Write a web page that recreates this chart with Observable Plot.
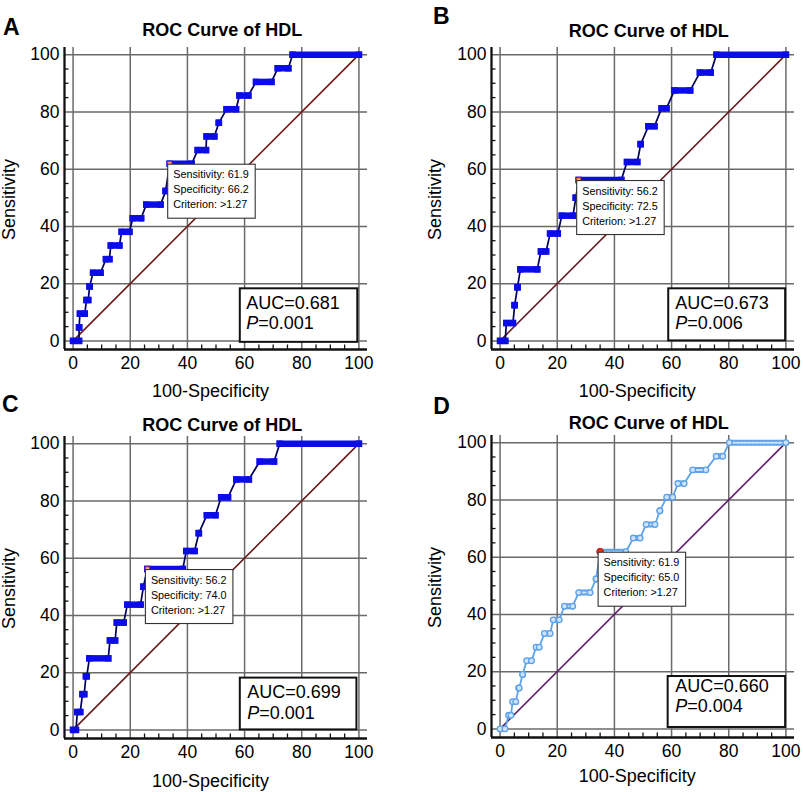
<!DOCTYPE html>
<html><head><meta charset="utf-8">
<script src="https://cdn.jsdelivr.net/npm/d3@7"></script>
<script src="https://cdn.jsdelivr.net/npm/@observablehq/plot@0.6"></script>
<style>
body{margin:0;background:#fff;}
#wrap{position:relative;width:803px;height:792px;overflow:hidden;background:#fff;}
.panel{position:absolute;}
</style></head><body><div id="wrap"></div>
<script>
// ---------- data ----------
const majorTicks = [0, 20, 40, 60, 80, 100];
const minorTicks = [5, 10, 15, 25, 30, 35, 45, 50, 55, 65, 70, 75, 85, 90, 95];
const diagonal = [0, 100];
const panelLetters = ["A", "B", "C", "D"];
const titleText = "ROC Curve of HDL";
const xLabel = "100-Specificity";
const yLabel = "Sensitivity";

// Panel A (21 positives): sensitivity level, start and end of each horizontal run (100-specificity)
const tprA  = [0, 4.76, 9.52, 14.29, 19.05, 23.81, 28.57, 33.33, 38.10, 42.86, 47.62, 52.38, 61.90, 66.67, 71.43, 76.19, 80.95, 85.71, 90.48, 95.24, 100];
const fromA = [0, 2.1, 2.4, 4.7, 5.8, 7.0, 11.5, 13.2, 17.0, 20.9, 25.6, 32.4, 33.8, 43.6, 46.7, 51.0, 53.7, 58.2, 64.0, 71.6, 76.8];
const toA   = [2.1, 2.1, 4.1, 5.3, 5.8, 9.6, 12.7, 16.2, 19.7, 23.8, 30.6, 32.4, 41.5, 46.5, 49.4, 51.0, 57.0, 61.3, 69.4, 75.3, 100];

// Panel B (16 positives)
const tprB  = [0, 6.25, 12.5, 18.75, 25, 31.25, 37.5, 43.75, 50, 56.25, 62.5, 68.75, 75, 81.25, 87.5, 93.75, 100];
const fromB = [0, 2.2, 5.1, 6.1, 7.1, 14.3, 17.5, 21.6, 26.5, 27.5, 44.4, 49.2, 51.9, 56.5, 61.0, 69.9, 75.7];
const toB   = [1.8, 4.5, 5.1, 6.1, 13.0, 16.1, 20.2, 25.5, 26.5, 42.4, 48.0, 49.2, 54.0, 58.2, 66.5, 73.7, 100];

// Panel C (16 positives)
const tprC  = [0, 6.25, 12.5, 18.75, 25, 31.25, 37.5, 43.75, 50, 56.25, 62.5, 68.75, 75, 81.25, 87.5, 93.75, 100];
const fromC = [0, 1.5, 3.3, 4.5, 5.7, 12.9, 15.3, 19.0, 24.6, 26.0, 39.6, 44.0, 46.8, 51.8, 57.1, 65.3, 72.3];
const toC   = [1.0, 2.5, 3.9, 4.8, 12.3, 14.7, 17.7, 23.6, 24.6, 38.4, 42.5, 44.0, 49.8, 54.2, 61.5, 70.3, 100];

// Panel D (21 positives)
const tprD  = [0, 4.76, 9.52, 14.29, 19.05, 23.81, 28.57, 33.33, 38.10, 42.86, 47.62, 52.38, 61.90, 66.67, 71.43, 76.19, 80.95, 85.71, 90.48, 95.24, 100];
const fromD = [0, 3.0, 4.4, 6.5, 7.9, 9.3, 12.6, 15.5, 18.6, 22.5, 27.5, 33.6, 35.0, 46.6, 51.1, 55.9, 58.3, 62.2, 67.4, 75.6, 80.2];
const toD   = [1.7, 3.8, 5.5, 6.7, 7.9, 11.0, 13.7, 17.5, 20.7, 25.4, 31.5, 33.6, 44.0, 49.0, 54.2, 55.9, 60.4, 64.4, 72.0, 77.9, 100];

// optimal cut-off annotation and AUC per panel
const sensitivityOpt = [61.9, 56.2, 56.2, 61.9];
const specificityOpt = [66.2, 72.5, 74.0, 65.0];
const criterion = [">1.27", ">1.27", ">1.27", ">1.27"];
const aucValues = ["0.681", "0.673", "0.699", "0.660"];
const pValues = ["0.001", "0.006", "0.001", "0.004"];

// ---------- layout ----------
const W = 376, H = 405, ML = 64, MR = 9, MT = 47, MB = 56;
const XD = [-3, 103], YD = [-3, 102.5];
const kx = (W - ML - MR) / (XD[1] - XD[0]);
const ky = (H - MT - MB) / (YD[1] - YD[0]);
const GRID = "#6a6a6a";
const FONT = "'Liberation Sans', Arial, Helvetica, sans-serif";

const layout = [
  {left: 0, top: 0, letter: {x: 2.5, y: 34.3}, title: {x: 221.7, y: 35}, ylabX: 14.5, xlab: {x: 210, y: 396.3},
   auc: {x1: 58.5, x2: 99.6, y1: -0.5, y2: 18.2, pad: 6, dy1: 20, dy2: 40}, kind: "square", diag: "#6e1a1a"},
  {left: 427, top: 0, letter: {x: 5.5, y: 23.3}, title: {x: 221.3, y: 36.7}, ylabX: 13.5, xlab: {x: 209.7, y: 396.3},
   auc: {x1: 59, x2: 99.9, y1: 0, y2: 18.2, pad: 6.5, dy1: 20, dy2: 40}, kind: "square", diag: "#6e1a1a"},
  {left: 0, top: 389, letter: {x: 1.5, y: 22.7}, title: {x: 221.7, y: 41}, ylabX: 14.5, xlab: {x: 210, y: 397.3},
   auc: {x1: 58.5, x2: 99.3, y1: 0, y2: 18.1, pad: 7, dy1: 20, dy2: 40.6}, kind: "square", diag: "#6e1a1a"},
  {left: 427, top: 388, letter: {x: 5.8, y: 25.2}, title: {x: 221.3, y: 40.3}, ylabX: 13.5, xlab: {x: 209.7, y: 393.6},
   auc: {x1: 58.8, x2: 99.9, y1: 0.5, y2: 18.3, pad: 7, dy1: 15.7, dy2: 35.7}, kind: "circle", diag: "#5a1d6b"}
];

function makePanel(i, tpr, from, to) {
  const L = layout[i];
  const runs = tpr.map((t, j) => ({y: t, x1: from[j], x2: to[j]}));
  const pts = runs.flatMap(r => [{x: r.x1, y: r.y}, {x: r.x2, y: r.y}]);
  const optX = 100 - specificityOpt[i], optY = sensitivityOpt[i];
  const opt = [{x: optX, y: optY}];
  const annot = [
    `Sensitivity: ${sensitivityOpt[i].toFixed(1)}`,
    `Specificity: ${specificityOpt[i].toFixed(1)}`,
    `Criterion: ${criterion[i]}`
  ];
  const A = L.auc;
  const isCircle = L.kind === "circle";
  const blue = "#0c0ce8", navy = "#00005a";
  const light = "#5ea2ea", lightInner = "#cfe3fa";

  const curveMarks = isCircle ? [
    Plot.line(pts, {x: "x", y: "y", stroke: light, strokeWidth: 1.8}),
    Plot.link(runs, {x1: "x1", x2: "x2", y1: "y", y2: "y", stroke: light, strokeWidth: 6, strokeLinecap: "round"}),
    Plot.link(runs, {x1: "x1", x2: "x2", y1: "y", y2: "y", stroke: lightInner, strokeWidth: 2, strokeLinecap: "round", strokeDasharray: "2 1.8"}),
    Plot.dot(pts, {x: "x", y: "y", r: 2.8, fill: lightInner, stroke: light, strokeWidth: 1.3}),
    Plot.dot(opt, {x: "x", y: "y", r: 3.4, fill: "#e2301a", stroke: "#b01808", strokeWidth: 0.8})
  ] : [
    Plot.line(pts, {x: "x", y: "y", stroke: navy, strokeWidth: 1.7}),
    Plot.link(runs, {x1: "x1", x2: "x2", y1: "y", y2: "y", stroke: blue, strokeWidth: 6.5, strokeLinecap: "square"}),
    Plot.dot(pts, {x: "x", y: "y", symbol: "square", r: 3.6, fill: blue}),
    Plot.dot(opt, {x: "x", y: "y", symbol: "square", r: 2.4, fill: "#f5b3ab", stroke: "#d62a1a", strokeWidth: 1})
  ];

  const marks = [
    Plot.ruleY(majorTicks, {x1: XD[0], x2: XD[1], stroke: GRID, strokeWidth: 1.5}),
    Plot.ruleX(majorTicks, {y1: YD[0], y2: YD[1], stroke: GRID, strokeWidth: 1.5}),
    Plot.ruleY(minorTicks, {x1: XD[0], x2: XD[0] + 4.5 / kx, stroke: "#111", strokeWidth: 1.3}),
    Plot.ruleX(minorTicks, {y1: YD[0], y2: YD[0] + 4.5 / ky, stroke: "#111", strokeWidth: 1.3}),
    Plot.ruleX([XD[0]], {y1: YD[0], y2: YD[1], stroke: "#111", strokeWidth: 2.3}),
    Plot.ruleY([YD[0]], {x1: XD[0], x2: XD[1], stroke: "#111", strokeWidth: 2.3}),
    Plot.text(majorTicks, {x: d => d, text: d => String(d), frameAnchor: "bottom", dy: 19.3, lineAnchor: "bottom", fontSize: 17.5, fill: "#000"}),
    Plot.text(majorTicks, {y: d => d, text: d => String(d), frameAnchor: "left", dx: -5, textAnchor: "end", lineAnchor: "middle", fontSize: 17.5, fill: "#000"}),
    Plot.line(diagonal, {x: d => d, y: d => d, stroke: L.diag, strokeWidth: 1.6}),
    ...curveMarks,
    Plot.rect(opt, {x1: d => d.x - 1.5 / kx, x2: d => d.x + 86 / kx, y1: d => d.y - 1 / ky, y2: d => d.y - 55 / ky, fill: "white", stroke: "#333", strokeWidth: 1.1}),
    ...annot.map((s, k) => Plot.text([s], {x: optX, y: optY, text: d => d, dx: 3.5, dy: 15 * (k + 1) - 0.5, textAnchor: "start", lineAnchor: "bottom", fontSize: 10.8, fill: "#000"})),
    Plot.rect([0], {x1: A.x1, x2: A.x2, y1: A.y1, y2: A.y2, fill: "white", stroke: "#111", strokeWidth: 2}),
    Plot.text([`AUC=${aucValues[i]}`], {x: A.x1, y: A.y2, text: d => d, dx: A.pad, dy: A.dy1, textAnchor: "start", lineAnchor: "bottom", fontSize: 18, fill: "#000"}),
    Plot.text(["P"], {x: A.x1, y: A.y2, text: d => d, dx: A.pad, dy: A.dy2, textAnchor: "start", lineAnchor: "bottom", fontSize: 18, fontStyle: "italic", fill: "#000"}),
    Plot.text([`=${pValues[i]}`], {x: A.x1, y: A.y2, text: d => d, dx: A.pad + 12, dy: A.dy2, textAnchor: "start", lineAnchor: "bottom", fontSize: 18, fill: "#000"}),
    Plot.text([panelLetters[i]], {frameAnchor: "top-left", text: d => d, dx: L.letter.x - ML, dy: L.letter.y - MT, textAnchor: "start", lineAnchor: "bottom", fontSize: 23, fontWeight: "bold", fill: "#000"}),
    Plot.text([titleText], {frameAnchor: "top-left", text: d => d, dx: L.title.x - ML, dy: L.title.y - MT, textAnchor: "middle", lineAnchor: "bottom", fontSize: 18, fontWeight: "bold", fill: "#000"}),
    Plot.text([xLabel], {frameAnchor: "top-left", text: d => d, dx: L.xlab.x - ML, dy: L.xlab.y - MT, textAnchor: "middle", lineAnchor: "bottom", fontSize: 18, fill: "#000"}),
    Plot.text([yLabel], {frameAnchor: "top-left", text: d => d, dx: L.ylabX - ML, dy: 199 - MT, rotate: -90, textAnchor: "middle", lineAnchor: "bottom", fontSize: 18, fill: "#000"})
  ];

  const svg = Plot.plot({
    width: W, height: H,
    marginLeft: ML, marginRight: MR, marginTop: MT, marginBottom: MB,
    x: {domain: XD, axis: null},
    y: {domain: YD, axis: null},
    style: {fontFamily: FONT, background: "transparent", overflow: "visible"},
    marks
  });
  const div = document.createElement("div");
  div.className = "panel";
  div.style.left = L.left + "px";
  div.style.top = L.top + "px";
  div.appendChild(svg);
  document.getElementById("wrap").appendChild(div);
}

makePanel(0, tprA, fromA, toA);
makePanel(1, tprB, fromB, toB);
makePanel(2, tprC, fromC, toC);
makePanel(3, tprD, fromD, toD);
</script>
</body></html>
